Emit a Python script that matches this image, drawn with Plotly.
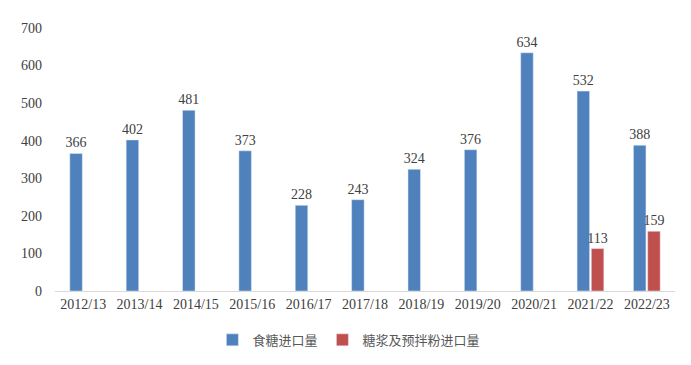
import plotly.graph_objects as go

categories = ["2012/13", "2013/14", "2014/15", "2015/16", "2016/17", "2017/18",
              "2018/19", "2019/20", "2020/21", "2021/22", "2022/23"]
sugar = [366, 402, 481, 373, 228, 243, 324, 376, 634, 532, 388]
syrup = [None, None, None, None, None, None, None, None, None, 113, 159]
series_names = ["食糖进口量", "糖浆及预拌粉进口量"]

num_font = "Liberation Serif, Times New Roman, serif"
cjk_font = "Noto Sans CJK SC, sans-serif"

fig = go.Figure()
fig.add_trace(go.Bar(
    x=categories, y=sugar, name=series_names[0], marker_color="#4F81BD",
    text=[str(v) for v in sugar], textposition="outside", constraintext="none",
    textfont=dict(family=num_font, size=14, color="#404040"), cliponaxis=False,
))
fig.add_trace(go.Bar(
    x=categories, y=syrup, name=series_names[1], marker_color="#C0504D",
    text=["" if v is None else str(v) for v in syrup], textposition="outside",
    constraintext="none",
    textfont=dict(family=num_font, size=14, color="#404040"), cliponaxis=False,
))

fig.update_layout(
    width=683, height=357,
    margin=dict(l=47, r=16, t=20, b=74, autoexpand=False),
    paper_bgcolor="white", plot_bgcolor="white",
    barmode="group", bargap=0.495, bargroupgap=0.12,
    showlegend=True,
    legend=dict(orientation="h", x=0.474, xanchor="center", y=-0.186, yanchor="middle",
                font=dict(family=cjk_font, size=13, color="#595959"),
                itemwidth=30, traceorder="normal"),
    xaxis=dict(showline=True, linecolor="#D9D9D9", linewidth=1, ticks="",
               tickfont=dict(family=num_font, size=14, color="#404040"),
               showgrid=False, automargin=False),
    yaxis=dict(range=[0, 700], dtick=100, showgrid=False, zeroline=False,
               showline=False, ticks="", ticklabelstandoff=12, automargin=False,
               tickfont=dict(family=num_font, size=14, color="#404040")),
)

fig.write_html("out.html")
